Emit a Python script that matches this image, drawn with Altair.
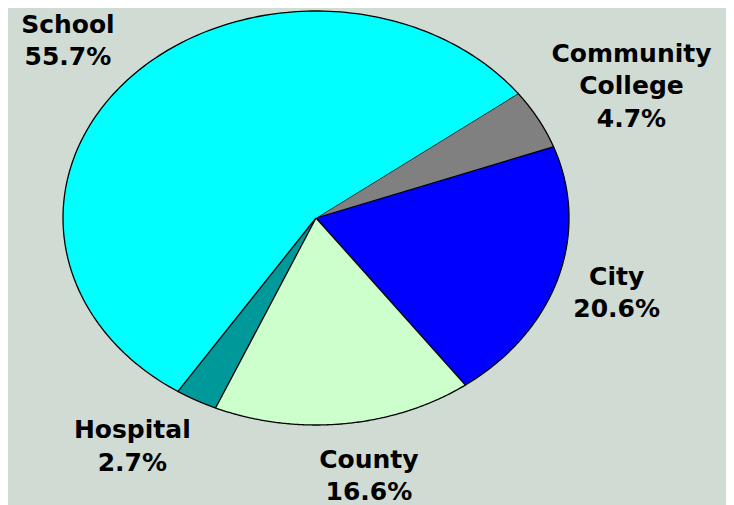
import altair as alt
import pandas as pd

# ---- data -------------------------------------------------------------
categories = ["Community College", "City", "County", "Hospital", "School"]
values = [4.7, 20.6, 16.6, 2.7, 55.7]
colors = ["#808080", "#0000FF", "#CCFFCC", "#009999", "#00FFFF"]

# ---- layout / style ---------------------------------------------------
W, H = 718, 489          # drawing area in px
CX, CY = 308, 207        # ellipse centre (px)
RX, RY = 253, 207        # ellipse radii (px)
START_DEG = 53           # first slice angle (clockwise from 12 o'clock)
N = 160                  # points per arc
LH = 32.5                # label line height
BG = "#D0DBD4"

df = pd.DataFrame({"category": categories, "value": values,
                   "idx": list(range(len(categories)))})

x_scale = alt.Scale(domain=[-CX / RX, (W - CX) / RX], nice=False, zero=False)
y_scale = alt.Scale(domain=[-(H - CY) / RY, CY / RY], nice=False, zero=False)

base = alt.Chart(df).transform_window(
    cum="sum(value)", sort=[alt.SortField("idx")], frame=[None, 0]
).transform_joinaggregate(
    total="sum(value)"
).transform_calculate(
    a0=f"{START_DEG}*PI/180 + 2*PI*(datum.cum - datum.value)/datum.total",
    a1=f"{START_DEG}*PI/180 + 2*PI*datum.cum/datum.total",
)

wedges = base.transform_calculate(
    k=f"sequence(-1, {N + 1})"
).transform_flatten(["k"]).transform_calculate(
    t=f"datum.a0 + (datum.a1 - datum.a0) * max(datum.k, 0) / {N}",
    px="datum.k < 0 ? 0 : sin(datum.t)",
    py="datum.k < 0 ? 0 : cos(datum.t)",
).mark_line(
    stroke="black", strokeWidth=1.3, strokeJoin="miter"
).encode(
    x=alt.X("px:Q", scale=x_scale, axis=None),
    y=alt.Y("py:Q", scale=y_scale, axis=None),
    fill=alt.Fill("category:N",
                  scale=alt.Scale(domain=categories, range=colors),
                  legend=None),
    detail="category:N",
    order=alt.Order("k:Q"),
)

labels = base.transform_calculate(
    mid="(datum.a0 + datum.a1) / 2",
    pct="format(datum.value, '.1f') + '%'",
).transform_calculate(
    label="replace(datum.category, ' ', '\\n') + '\\n' + datum.pct",
    maxlen="max(length(datum.pct), length(split(datum.category, ' ')[0]), "
           "length(split(datum.category, ' ')[1] || ''))",
).transform_calculate(
    nlines="length(split(datum.label, '\\n'))",
).transform_calculate(
    lx=f"sin(datum.mid) + (sin(datum.mid) < 0 ? -1 : 1) * "
       f"min(1, 1.1 * sqrt(abs(sin(datum.mid)))) * (datum.maxlen * 8.7 + 15) / {RX}",
    ly=f"cos(datum.mid) * (1 + (datum.nlines * {LH / 2} + 20) / {RY})"
       f" + (datum.nlines - 1) * {LH / 2} / {RY}",
).mark_text(
    lineBreak="\n", font="DejaVu Sans", fontSize=25, fontWeight="bold",
    lineHeight=LH, align="center", baseline="middle", color="black",
).encode(
    x=alt.X("lx:Q", scale=x_scale, axis=None),
    y=alt.Y("ly:Q", scale=y_scale, axis=None),
    text="label:N",
)

chart = alt.layer(wedges, labels).properties(
    width=W, height=H, background=BG, padding=0
).configure_view(stroke=None)

chart.save("out.html", embed_options={"renderer": "svg", "actions": False})
